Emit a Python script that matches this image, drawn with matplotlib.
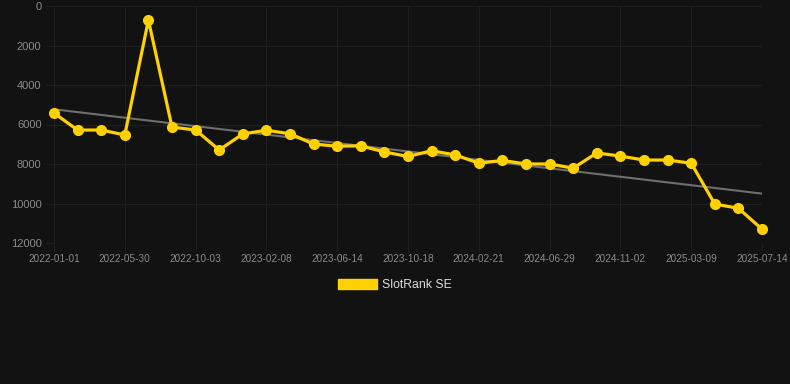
import numpy as np
import matplotlib
matplotlib.use("Agg")
import matplotlib.pyplot as plt
from matplotlib.patches import Patch

plt.rcParams["font.family"] = ["Liberation Sans", "DejaVu Sans"]

# dates of each sample (labels shown on every third one)
dates = ["2022-01-01", "2022-02-20", "2022-04-10", "2022-05-30", "2022-07-11",
         "2022-08-22", "2022-10-03", "2022-11-15", "2022-12-27", "2023-02-08",
         "2023-03-22", "2023-05-03", "2023-06-14", "2023-07-26", "2023-09-06",
         "2023-10-18", "2023-11-29", "2024-01-10", "2024-02-21", "2024-04-04",
         "2024-05-17", "2024-06-29", "2024-08-10", "2024-09-21", "2024-11-02",
         "2024-12-15", "2025-01-26", "2025-03-09", "2025-04-20", "2025-06-01",
         "2025-07-14"]
rank = [5420, 6280, 6280, 6530, 710, 6130, 6280, 7290, 6480, 6290,
        6470, 6990, 7100, 7080, 7390, 7620, 7330, 7540, 7960, 7820,
        8000, 8000, 8210, 7440, 7600, 7800, 7800, 7960, 10030, 10240,
        11300]
# trend line end values
trend_ends = [5230, 9500]
series_name = "SlotRank SE"

bg = "#121212"
yellow = "#FFD100"
grid_c = "#1f1f1f"
text_c = "#8a8a8a"

x = np.arange(len(rank))

fig = plt.figure(figsize=(7.9, 3.84), dpi=100, facecolor=bg)
ax = fig.add_axes([54 / 790, 1 - 243 / 384, (762 - 54) / 790, (243 - 6) / 384])
ax.set_facecolor(bg)

ax.plot([x[0], x[-1]], trend_ends, color="#6e6e6e", linewidth=1.5, zorder=2)
ax.plot(x, rank, color=yellow, linewidth=2.3, marker="o", markersize=7,
        zorder=3, clip_on=False)

ax.set_xlim(0, len(rank) - 1)
ax.set_ylim(12000, 0)
ax.set_yticks(range(0, 12001, 2000))
ax.set_xticks(x[::3])
ax.set_xticklabels(dates[::3])

ax.grid(True, color=grid_c, linewidth=0.8)
for s in ax.spines.values():
    s.set_visible(False)
ax.tick_params(axis="y", colors=text_c, labelsize=8, length=6, color=grid_c, pad=3)
ax.tick_params(axis="x", colors=text_c, labelsize=7.2, length=6, color=grid_c, pad=2)
for lab in ax.get_yticklabels() + ax.get_xticklabels():
    lab.set_color(text_c)

leg = fig.legend(handles=[Patch(facecolor=yellow, edgecolor=yellow, label=series_name)],
                 loc="center", bbox_to_anchor=(0.5, 1 - 285 / 384), frameon=False,
                 fontsize=8.8, handlelength=3.2, handleheight=0.9, handletextpad=0.45)
for t in leg.get_texts():
    t.set_color("#dddddd")

fig.savefig("out.png", dpi=100, facecolor=bg)
